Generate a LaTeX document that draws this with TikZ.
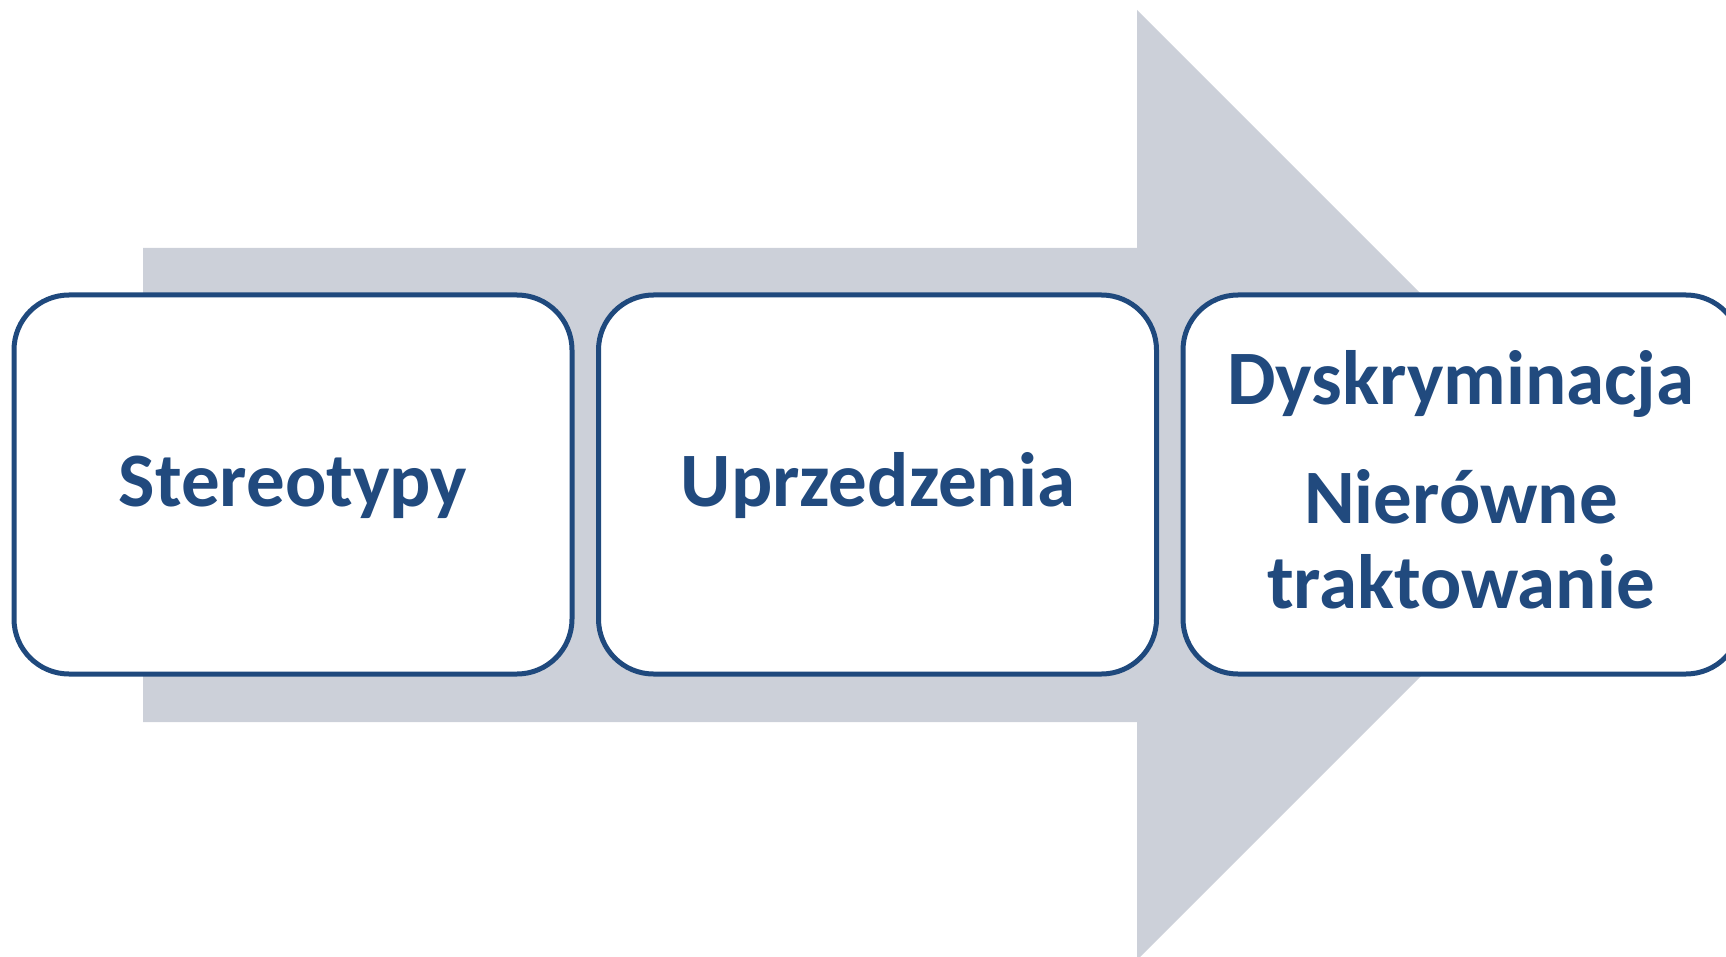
\documentclass[tikz,border=0pt]{standalone}
\usepackage{fontspec}
\setmainfont{Carlito}
\definecolor{boxblue}{HTML}{1F497D}
\definecolor{txtblue}{HTML}{214A7E}
\definecolor{arrowgrey}{HTML}{CCD0D9}
\begin{document}
\begin{tikzpicture}[x=1pt,y=-1pt,
  stagebox/.style={draw=boxblue, line width=5pt, fill=white, rounded corners=55pt,
    minimum width=558pt, minimum height=379pt, inner sep=0pt},
  lbl/.style={text=txtblue, font=\bfseries\fontsize{77}{92}\selectfont, anchor=base, inner sep=0pt}]
\useasboundingbox (0,0) rectangle (1726,957);
\clip (0,0) rectangle (1726,957);
% big background arrow
\fill[arrowgrey] (143,248) -- (1137,248) -- (1137,10) -- (1612,485) -- (1137,960) -- (1137,722) -- (143,722) -- cycle;
% boxes
\node[stagebox] (b1) at (293,484.5) {};
\node[stagebox] (b2) at (877.5,484.5) {};
\node[stagebox] (b3) at (1462,484.5) {};
% labels
\node[lbl] (t1) at (293,506) {Stereotypy};
\node[lbl] (t2) at (878,506) {Uprzedzenia};
\node[lbl] (t3) at (1461,404) {Dyskryminacja};
\node[lbl] (t4) at (1461,523) {Nierówne};
\node[lbl] (t5) at (1461,608) {traktowanie};
\end{tikzpicture}
\end{document}
